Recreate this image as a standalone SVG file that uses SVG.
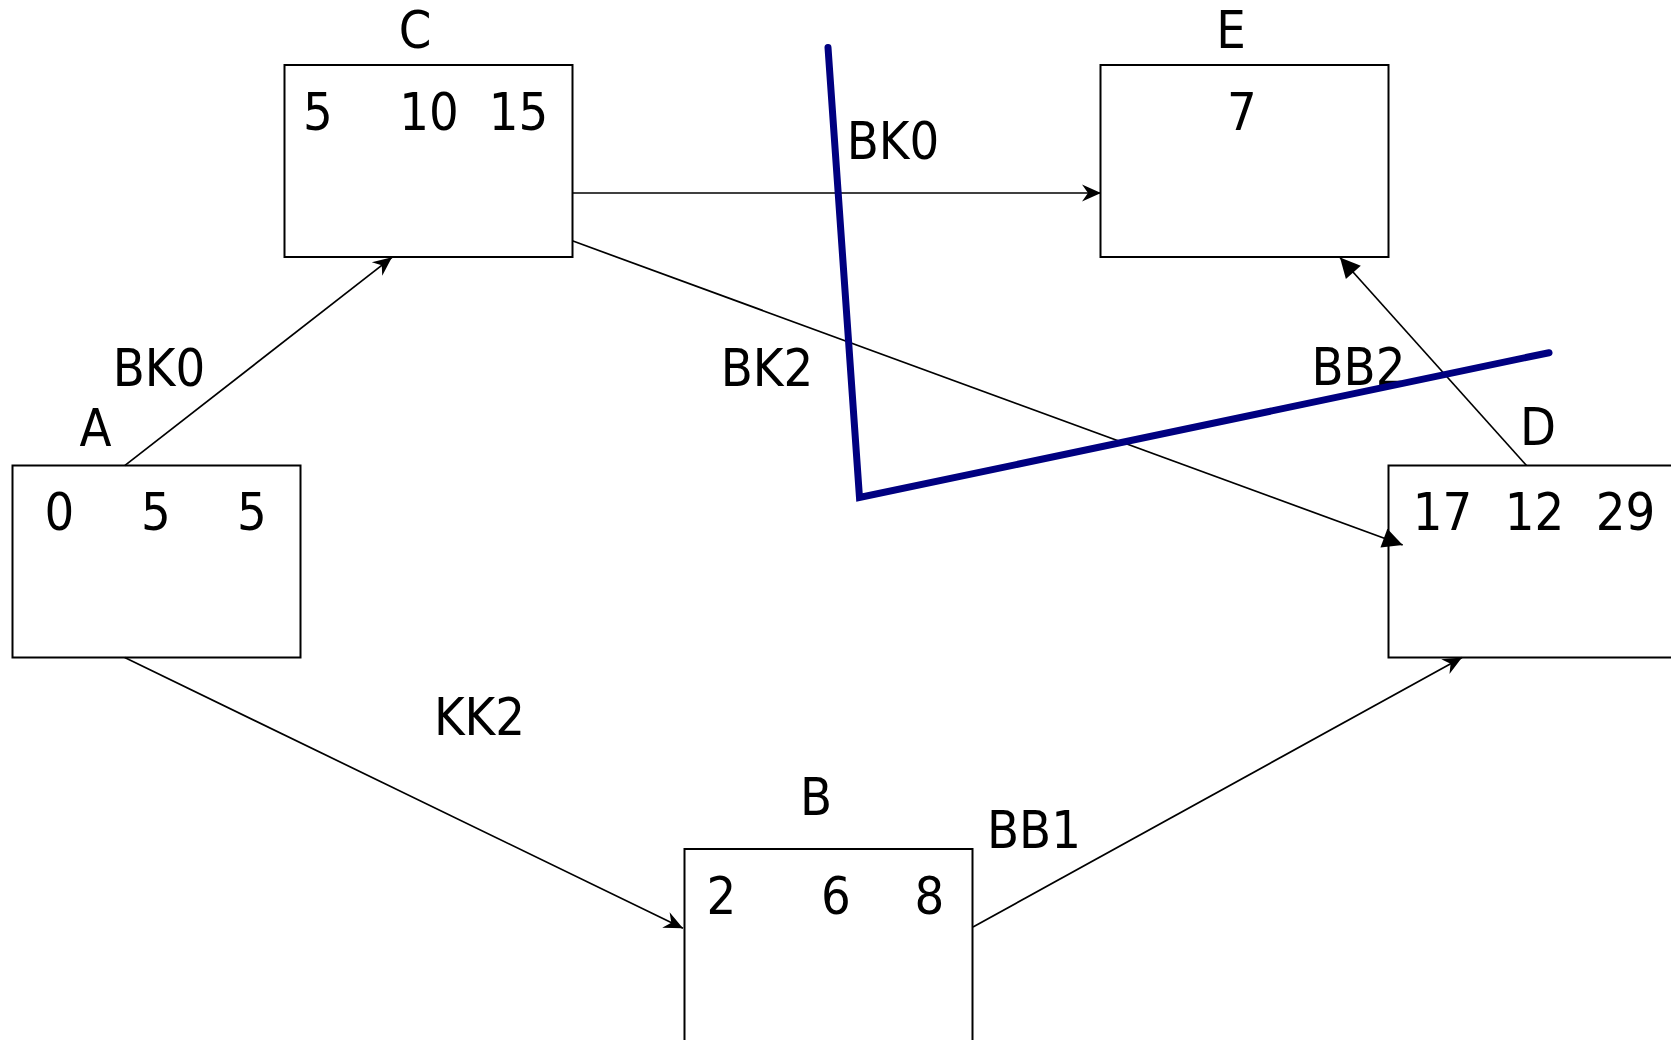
<svg xmlns="http://www.w3.org/2000/svg" width="1671" height="1040" viewBox="0 0 1671 1040">
<style>
  .box { fill: none; stroke: #000; stroke-width: 2; }
  .lbl { font-family: "DejaVu Sans Condensed", "DejaVu Sans", sans-serif; font-stretch: condensed; font-size: 52px; fill: #000; text-anchor: middle; }
  .con { fill: none; stroke: #000; stroke-width: 1.7; }
  .cut { fill: none; stroke: #000080; stroke-width: 7; stroke-linecap: round; stroke-linejoin: miter; }
</style>
<defs>
  <marker id="stealth" markerUnits="userSpaceOnUse" viewBox="-20 -10 22 20" refX="0" refY="0" markerWidth="22" markerHeight="20" orient="auto">
    <path d="M0,0 L-19,-8.5 L-13,0 L-19,8.5 Z" fill="#000"/>
  </marker>
  <marker id="tri" markerUnits="userSpaceOnUse" viewBox="-22 -11 24 22" refX="0" refY="0" markerWidth="24" markerHeight="22" orient="auto">
    <path d="M0,0 L-20,-10 L-20,10 Z" fill="#000"/>
  </marker>
</defs>

<rect width="1671" height="1040" fill="#fff"/>

<g id="connectors">
  <line class="con" x1="124.7" y1="465.7" x2="392" y2="257.3" marker-end="url(#stealth)"/>
  <line class="con" x1="572.3" y1="193" x2="1101" y2="193" marker-end="url(#stealth)"/>
  <line class="con" x1="572.3" y1="240.8" x2="1402.7" y2="545" marker-end="url(#tri)"/>
  <line class="con" x1="1526.5" y1="465.5" x2="1340" y2="257.5" marker-end="url(#tri)"/>
  <line class="con" x1="124.7" y1="657.5" x2="683" y2="928.3" marker-end="url(#stealth)"/>
  <line class="con" x1="973" y1="927" x2="1462" y2="657.5" marker-end="url(#stealth)"/>
  <text class="lbl" x="159" y="386">BK0</text>
  <text class="lbl" x="893" y="159">BK0</text>
  <text class="lbl" x="767" y="385.5">BK2</text>
  <text class="lbl" x="1358.5" y="385">BB2</text>
  <text class="lbl" x="479.5" y="735">KK2</text>
  <text class="lbl" x="1034" y="848">BB1</text>
</g>

<g id="cut">
  <polyline class="cut" points="828,47.5 859.5,497.5 1549,352.7"/>
</g>

<g id="node-A">
  <rect class="box" x="12.5" y="465.5" width="288" height="192"/>
  <text class="lbl" x="95.5" y="446">A</text>
  <text class="lbl" x="59.4" y="529.5">0</text>
  <text class="lbl" x="156" y="529.5">5</text>
  <text class="lbl" x="252" y="529.5">5</text>
</g>

<g id="node-C">
  <rect class="box" x="284.5" y="65" width="288" height="192"/>
  <text class="lbl" x="415" y="48">C</text>
  <text class="lbl" x="318" y="129.5">5</text>
  <text class="lbl" x="429" y="129.5">10</text>
  <text class="lbl" x="518.5" y="129.5">15</text>
</g>

<g id="node-E">
  <rect class="box" x="1100.5" y="65" width="288" height="192"/>
  <text class="lbl" x="1231" y="48">E</text>
  <text class="lbl" x="1242" y="129.5">7</text>
</g>

<g id="node-D">
  <rect class="box" x="1388.5" y="465.5" width="288" height="192"/>
  <text class="lbl" x="1538" y="445">D</text>
  <text class="lbl" x="1442.5" y="529.5">17</text>
  <text class="lbl" x="1534.5" y="529.5">12</text>
  <text class="lbl" x="1625.5" y="529.5">29</text>
</g>

<g id="node-B">
  <rect class="box" x="684.5" y="849" width="288" height="192"/>
  <text class="lbl" x="816" y="815">B</text>
  <text class="lbl" x="721.5" y="913.5">2</text>
  <text class="lbl" x="836" y="913.5">6</text>
  <text class="lbl" x="929.5" y="913.5">8</text>
</g>
</svg>
